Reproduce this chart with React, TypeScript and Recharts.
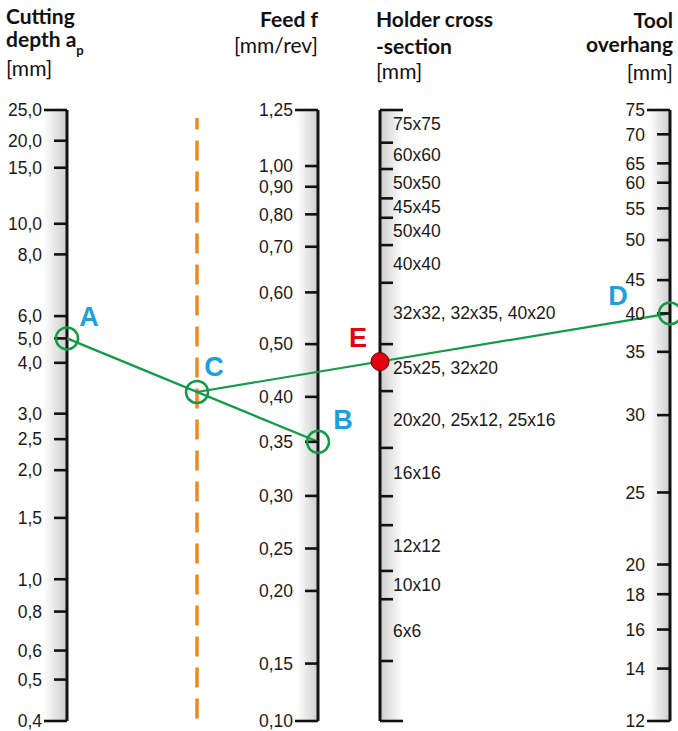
import { ComposedChart, Line, ReferenceArea, ReferenceLine, Scatter, XAxis, YAxis } from "recharts";

type Tick = { label: string; at: number };

// graduation of each scale: label and its reading along the scale (0 = bottom, 100 = top)
const depthTicks: Tick[] = [
  { label: "25,0", at: 100 },
  { label: "20,0", at: 94.97 },
  { label: "15,0", at: 90.55 },
  { label: "10,0", at: 81.38 },
  { label: "8,0", at: 76.37 },
  { label: "6,0", at: 66.27 },
  { label: "5,0", at: 62.62 },
  { label: "4,0", at: 58.62 },
  { label: "3,0", at: 50.3 },
  { label: "2,5", at: 46.13 },
  { label: "2,0", at: 41.05 },
  { label: "1,5", at: 33.24 },
  { label: "1,0", at: 23.2 },
  { label: "0,8", at: 17.91 },
  { label: "0,6", at: 11.53 },
  { label: "0,5", at: 6.78 },
  { label: "0,4", at: 0 },
];

const feedTicks: Tick[] = [
  { label: "1,25", at: 100 },
  { label: "1,00", at: 90.83 },
  { label: "0,90", at: 87.44 },
  { label: "0,80", at: 82.92 },
  { label: "0,70", at: 77.62 },
  { label: "0,60", at: 70.15 },
  { label: "0,50", at: 61.68 },
  { label: "0,40", at: 53.05 },
  { label: "0,35", at: 45.69 },
  { label: "0,30", at: 36.84 },
  { label: "0,25", at: 28.23 },
  { label: "0,20", at: 21.29 },
  { label: "0,15", at: 9.4 },
  { label: "0,10", at: 0 },
];

const holderMarks: number[] = [
  100, 94.65, 90.34, 85.54, 82.36, 77.89, 71.72, 61.68, 53.99, 44.7, 36.79, 32.05, 24.56, 19.93, 9.82, 0,
];

const holderSizes: Tick[] = [
  { label: "75x75", at: 97.71 },
  { label: "60x60", at: 92.75 },
  { label: "50x50", at: 88.1 },
  { label: "45x45", at: 84.17 },
  { label: "50x40", at: 80.24 },
  { label: "40x40", at: 74.78 },
  { label: "32x32, 32x35, 40x20", at: 66.81 },
  { label: "25x25, 32x20", at: 57.8 },
  { label: "20x20, 25x12, 25x16", at: 49.24 },
  { label: "16x16", at: 40.61 },
  { label: "12x12", at: 28.77 },
  { label: "10x10", at: 22.33 },
  { label: "6x6", at: 14.85 },
];

const overhangTicks: Tick[] = [
  { label: "75", at: 100 },
  { label: "70", at: 96.02 },
  { label: "65", at: 91.27 },
  { label: "60", at: 88.1 },
  { label: "55", at: 83.9 },
  { label: "50", at: 78.71 },
  { label: "45", at: 72.16 },
  { label: "40", at: 66.71 },
  { label: "35", at: 60.42 },
  { label: "30", at: 50.06 },
  { label: "25", at: 37.4 },
  { label: "20", at: 25.61 },
  { label: "18", at: 20.75 },
  { label: "16", at: 14.97 },
  { label: "14", at: 8.58 },
  { label: "12", at: 0 },
];

// chosen readings
const pickDepth = "5,0";
const pickFeed = "0,35";
const pickOverhang = "40";

// layout
const W = 678;
const H = 731;
const X = { depth: 67, guide: 197, feed: 318, holder: 380, overhang: 670 };
const GREEN = "#119b45";
const BLUE = "#1ba0e2";
const RED = "#e3000f";
const TICK_FONT = "'Liberation Sans', Arial, sans-serif";
const TITLE_FONT = "Lato, 'Open Sans', sans-serif";

const find = (ticks: Tick[], label: string) => ticks.find(t => t.label === label)!.at;

const A = { x: X.depth, y: find(depthTicks, pickDepth), name: "A" };
const B = { x: X.feed, y: find(feedTicks, pickFeed), name: "B" };
const C = { x: X.guide, y: A.y + ((B.y - A.y) * (X.guide - A.x)) / (B.x - A.x), name: "C" };
const D = { x: X.overhang, y: find(overhangTicks, pickOverhang), name: "D" };
const E = { x: X.holder, y: C.y + ((D.y - C.y) * (X.holder - C.x)) / (D.x - C.x), name: "E" };

const letterOffset: any = {
  A: [22, -22],
  B: [25, -23],
  C: [17, -26],
  D: [-52, -18],
  E: [-22, -24],
};

const tickShape = (side: "left" | "right", showLabel: boolean) => (props: any) => {
  const { cx, cy, payload } = props;
  const cap = payload.y === 0 || payload.y === 100;
  const len = cap ? 23 : 13;
  const x2 = side === "left" ? cx - len : cx + len;
  return (
    <g>
      <line x1={cx} x2={x2} y1={cy} y2={cy} stroke="#111" strokeWidth={2.6} />
      {showLabel && (
        <text
          x={cx - 25}
          y={cy}
          dy="0.36em"
          textAnchor="end"
          fontFamily={TICK_FONT}
          fontSize={17.5}
          fill="#1a1a1a"
        >
          {payload.label}
        </text>
      )}
    </g>
  );
};

const sizeShape = (props: any) => (
  <text
    x={props.cx + 13}
    y={props.cy}
    dy="0.36em"
    fontFamily={TICK_FONT}
    fontSize={17.5}
    fill="#1a1a1a"
  >
    {props.payload.label}
  </text>
);

const pointShape = (props: any) => {
  const { cx, cy, payload } = props;
  const [dx, dy] = letterOffset[payload.name];
  const isE = payload.name === "E";
  return (
    <g>
      {isE ? (
        <circle cx={cx} cy={cy} r={9} fill={RED} stroke="#6b0000" strokeWidth={1} />
      ) : (
        <circle cx={cx} cy={cy} r={11} fill="none" stroke={GREEN} strokeWidth={2.5} />
      )}
      <text
        x={cx + dx}
        y={cy + dy}
        dy="0.36em"
        textAnchor="middle"
        fontFamily={TICK_FONT}
        fontWeight="bold"
        fontSize={27}
        fill={isE ? RED : BLUE}
      >
        {payload.name}
      </text>
    </g>
  );
};

const asPoints = (ticks: Tick[], x: number) => ticks.map(t => ({ x, y: t.at, label: t.label }));

const axisSegment = (x: number): any => [
  { x, y: 0 },
  { x, y: 100 },
];

export default function App() {
  return (
    <div style={{ position: "relative", width: W, height: H, background: "#fff" }}>
      <style>{"body{margin:0}"}</style>
      <ComposedChart width={W} height={H} margin={{ top: 110, right: 0, bottom: 10, left: 0 }}>
        <defs>
          <linearGradient id="stripL" x1="0" y1="0" x2="1" y2="0">
            <stop offset="0%" stopColor="#ffffff" />
            <stop offset="100%" stopColor="#cdcdcd" />
          </linearGradient>
          <linearGradient id="stripR" x1="0" y1="0" x2="1" y2="0">
            <stop offset="0%" stopColor="#cdcdcd" />
            <stop offset="100%" stopColor="#ffffff" />
          </linearGradient>
        </defs>
        <XAxis type="number" dataKey="x" domain={[0, W]} hide />
        <YAxis type="number" dataKey="y" domain={[0, 100]} hide />

        <ReferenceArea x1={X.depth - 24} x2={X.depth} y1={0} y2={100} fill="url(#stripL)" fillOpacity={1} />
        <ReferenceArea x1={X.feed - 21} x2={X.feed} y1={0} y2={100} fill="url(#stripL)" fillOpacity={1} />
        <ReferenceArea x1={X.holder} x2={X.holder + 23} y1={0} y2={100} fill="url(#stripR)" fillOpacity={1} />
        <ReferenceArea x1={X.overhang - 21} x2={X.overhang} y1={0} y2={100} fill="url(#stripL)" fillOpacity={1} />

        <ReferenceLine segment={axisSegment(X.depth)} stroke="#111" strokeWidth={3} />
        <ReferenceLine segment={axisSegment(X.feed)} stroke="#111" strokeWidth={3} />
        <ReferenceLine segment={axisSegment(X.holder)} stroke="#111" strokeWidth={3} />
        <ReferenceLine segment={axisSegment(X.overhang)} stroke="#111" strokeWidth={3} />

        <ReferenceLine
          segment={[
            { x: X.guide, y: 0.4 },
            { x: X.guide, y: 98.7 },
          ]}
          stroke="#f0891c"
          strokeWidth={3.5}
          strokeDasharray="20 11"
        />

        <Scatter data={asPoints(depthTicks, X.depth)} shape={tickShape("left", true)} isAnimationActive={false} />
        <Scatter data={asPoints(feedTicks, X.feed)} shape={tickShape("left", true)} isAnimationActive={false} />
        <Scatter
          data={holderMarks.map(at => ({ x: X.holder, y: at, label: "" }))}
          shape={tickShape("right", false)}
          isAnimationActive={false}
        />
        <Scatter data={asPoints(holderSizes, X.holder)} shape={sizeShape} isAnimationActive={false} />
        <Scatter data={asPoints(overhangTicks, X.overhang)} shape={tickShape("left", true)} isAnimationActive={false} />

        <Line data={[A, B]} dataKey="y" stroke={GREEN} strokeWidth={2.2} dot={false} isAnimationActive={false} />
        <Line data={[C, D]} dataKey="y" stroke={GREEN} strokeWidth={2.2} dot={false} isAnimationActive={false} />

        <Scatter data={[A, B, C, D, E]} shape={pointShape} isAnimationActive={false} />
      </ComposedChart>

      <svg
        width={W}
        height={100}
        style={{ position: "absolute", left: 0, top: 0, pointerEvents: "none" }}
        fontFamily={TITLE_FONT}
        fontSize={21}
        fill="#111"
      >
        <text x={6} y={24} fontWeight="bold">Cutting</text>
        <text x={6} y={47} fontWeight="bold">
          depth a<tspan fontSize={13} dy={8}>p</tspan>
        </text>
        <text x={6} y={76}>[mm]</text>

        <text x={318} y={27} fontWeight="bold" textAnchor="end">Feed f</text>
        <text x={318} y={53} textAnchor="end">[mm/rev]</text>

        <text x={376} y={27} fontWeight="bold">Holder cross</text>
        <text x={376} y={54} fontWeight="bold">-section</text>
        <text x={376} y={79}>[mm]</text>

        <text x={673} y={28} fontWeight="bold" textAnchor="end">Tool</text>
        <text x={673} y={52} fontWeight="bold" textAnchor="end">overhang</text>
        <text x={673} y={80} textAnchor="end">[mm]</text>
      </svg>
    </div>
  );
}
